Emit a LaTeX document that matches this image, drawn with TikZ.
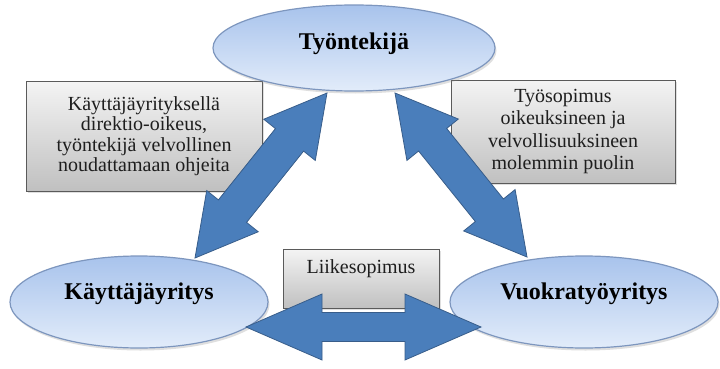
\documentclass[tikz,border=0pt]{standalone}
\usepackage{fontspec}
\setmainfont{Liberation Serif}
\newfontfamily\tms{Liberation Serif}
\usetikzlibrary{shapes.geometric,calc,shadows}
\definecolor{ellTop}{RGB}{168,195,236}
\definecolor{ellBot}{RGB}{226,236,250}
\definecolor{ellLine}{RGB}{125,150,190}
\definecolor{arrFill}{RGB}{74,126,187}
\definecolor{arrLine}{RGB}{56,93,138}
\definecolor{boxTop}{RGB}{244,244,244}
\definecolor{boxBot}{RGB}{192,192,192}
\definecolor{boxLine}{RGB}{90,90,90}
\definecolor{txt}{RGB}{30,30,30}
\tikzset{
  ell/.style={ellipse, draw=ellLine, line width=1.2pt, top color=ellTop, bottom color=ellBot,
    inner sep=0pt, drop shadow={opacity=0.25, shadow xshift=1.5pt, shadow yshift=-2.5pt}},
  elltext/.style={font=\tms\fontsize{24}{28}\selectfont\bfseries, text=black},
  infobox/.style={rectangle, draw=boxLine, line width=1pt, top color=boxTop, bottom color=boxBot,
    align=center, inner sep=0pt, text=txt,
    drop shadow={opacity=0.25, shadow xshift=1.5pt, shadow yshift=-2pt}},
  bigarrow/.style={fill=arrFill, draw=arrLine, line width=0.8pt, line join=miter},
}
% #1,#2 tips; #3 head length; #4 head half width; #5 shaft half width
\newcommand{\dblarrow}[5]{%
  \coordinate (hA) at ($(#1)!#3!(#2)$);
  \coordinate (hB) at ($(#2)!#3!(#1)$);
  \draw[bigarrow] (#1) -- ($(hA)!#4!90:(#2)$) -- ($(hA)!#5!90:(#2)$)
    -- ($(hB)!#5!-90:(#1)$) -- ($(hB)!#4!-90:(#1)$) -- (#2)
    -- ($(hB)!#4!90:(#1)$) -- ($(hB)!#5!90:(#1)$)
    -- ($(hA)!#5!-90:(#2)$) -- ($(hA)!#4!-90:(#2)$) -- cycle;
}
\begin{document}
\begin{tikzpicture}[x=1pt,y=-1pt]
\useasboundingbox (0,0) rectangle (720,369);
\fill[white] (0,0) rectangle (720,369);

% boxes
\node[infobox, minimum width=236pt, minimum height=110pt,
      font=\tms\fontsize{20}{20.5}\selectfont] (kbox) at (144,136)
  {Käyttäjäyrityksellä\\direktio-oikeus,\\työntekijä velvollinen\\noudattamaan ohjeita};
\node[infobox, minimum width=224pt, minimum height=103pt,
      font=\tms\fontsize{20}{22.5}\selectfont] (vbox) at (563,131.5)
  {Työsopimus\\oikeuksineen ja\\velvollisuuksineen\\molemmin puolin};
\node[infobox, minimum width=156pt, minimum height=59pt,
      font=\tms\fontsize{20}{22}\selectfont, text depth=23pt] (lbox) at (361,278.5)
  {Liikesopimus};

% ellipses
\node[ell, minimum width=282pt, minimum height=86pt,
      label={[elltext,yshift=4pt]center:Työntekijä}] (tyo) at (354,48) {};
\node[ell, minimum width=258pt, minimum height=92pt,
      label={[elltext,yshift=8pt]center:Käyttäjäyritys}] (kay) at (139,302) {};
\node[ell, minimum width=268pt, minimum height=92pt,
      label={[elltext,yshift=8pt]center:Vuokratyöyritys}] (vuo) at (584,302) {};

% arrow tips
\coordinate (lbot) at (195,258);
\coordinate (ltop) at (327,93);
\coordinate (rtop) at (395,93);
\coordinate (rbot) at (527,257);
\coordinate (hl) at (246,327);
\coordinate (hr) at (481,327);

\dblarrow{lbot}{ltop}{60pt}{33pt}{18pt}
\dblarrow{rtop}{rbot}{60pt}{33pt}{18pt}
\dblarrow{hl}{hr}{76pt}{33pt}{14.5pt}
\end{tikzpicture}
\end{document}
